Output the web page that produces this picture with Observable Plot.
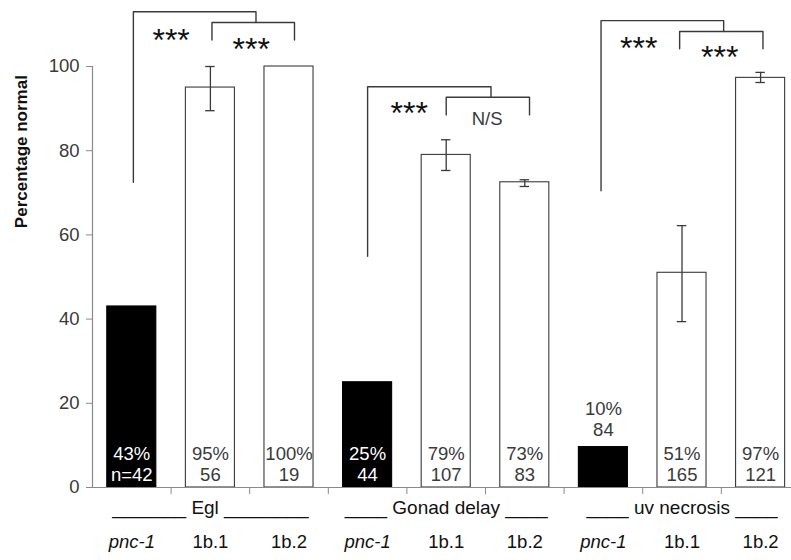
<!DOCTYPE html>
<html>
<head>
<meta charset="utf-8">
<script src="https://cdn.jsdelivr.net/npm/d3@7"></script>
<script src="https://cdn.jsdelivr.net/npm/@observablehq/plot@0.6"></script>
<style>
  html, body { margin: 0; padding: 0; background: #fff; overflow: hidden; }
</style>
</head>
<body>
<div id="chart"></div>
<script>
// ---- data ----
const strains = ["pnc-1", "1b.1", "1b.2", "pnc-1", "1b.1", "1b.2", "pnc-1", "1b.1", "1b.2"];
const assays = ["Egl", "Egl", "Egl", "Gonad delay", "Gonad delay", "Gonad delay", "uv necrosis", "uv necrosis", "uv necrosis"];
const values = [43, 95, 100, 25, 79, 72.5, 9.6, 51, 97.3];
const errLow = [null, 89.5, null, null, 75.3, 71.5, null, 39.4, 96.2];
const errHigh = [null, 100, null, null, 82.6, 73.1, null, 62.2, 98.6];
const pctLabels = ["43%", "95%", "100%", "25%", "79%", "73%", "10%", "51%", "97%"];
const nLabels = ["n=42", "56", "19", "44", "107", "83", "84", "165", "121"];

const groupLabels = ["_______ Egl ________", "____ Gonad delay ____", "____ uv necrosis ____"];
const groupCenters = [1, 4, 7];

// significance brackets (x in bar-index units, y in percent units)
const bracketLeft = [0.02, 1.02, 3.0, 4.0, 5.97, 6.97];
const bracketRight = [1.58, 2.07, 4.57, 5.06, 7.53, 8.03];
const bracketTop = [113, 110.45, 95.2, 92.7, 110.9, 108.3];
const bracketLeftEnd = [72.5, 106.3, 54.9, 88.5, 70.5, 104.2];
const bracketRightEnd = [110.45, 106.3, 92.7, 88.5, 108.3, 104.2];
const sigLabels = ["***", "***", "***", "N/S", "***", "***"];
const sigX = [0.5, 1.52, 3.53, 4.52, 6.45, 7.48];
const sigY = [108.2, 105.9, 90.7, 87.6, 106.2, 104.0];

const yTicks = [0, 20, 40, 60, 80, 100];

// ---- derived tables ----
const bars = values.map((v, i) => ({
  i, v, strain: strains[i], assay: assays[i],
  lo: errLow[i], hi: errHigh[i],
  label: pctLabels[i] + "\n" + nLabels[i],
  control: strains[i] === "pnc-1"
}));
const errs = bars.filter(d => d.lo != null);
const halfW = 0.312, capW = 0.06;

const bracketPts = [];
sigLabels.forEach((s, k) => {
  bracketPts.push({k, x: bracketLeft[k], y: bracketLeftEnd[k]});
  bracketPts.push({k, x: bracketLeft[k], y: bracketTop[k]});
  bracketPts.push({k, x: bracketRight[k], y: bracketTop[k]});
  bracketPts.push({k, x: bracketRight[k], y: bracketRightEnd[k]});
});
const sig = sigLabels.map((s, k) => ({s, x: sigX[k], y: sigY[k]}));
const groups = groupLabels.map((g, k) => ({g, x: groupCenters[k]}));

const dark = "#3a3a3a";
const axisGray = "#8a8a8a";
const font = "'Liberation Sans', Arial, Helvetica, sans-serif";

const chart = Plot.plot({
  width: 791,
  height: 560,
  marginLeft: 92,
  marginRight: -8.4,
  marginTop: 66,
  marginBottom: 73,
  style: {fontFamily: font, fontSize: "18.5px", color: dark, background: "#fff"},
  x: {type: "linear", domain: [-0.5, 8.5]},
  y: {domain: [0, 100]},
  marks: [
    // bars
    Plot.rectY(bars, {
      x1: d => d.i - halfW, x2: d => d.i + halfW, y1: 0, y2: "v",
      fill: d => d.control ? "#000" : "#fff",
      stroke: d => d.control ? "#000" : dark,
      strokeWidth: 1.1
    }),
    // axes
    Plot.ruleY([0], {stroke: axisGray, strokeWidth: 1.2}),
    Plot.ruleX([-0.5], {y1: 0, y2: 100, stroke: axisGray, strokeWidth: 1.2}),
    Plot.axisY(yTicks, {tickSize: 6, tickPadding: 7, stroke: axisGray, fill: dark, fontSize: 18.5, label: null}),
    Plot.axisX([0.5, 1.5, 2.5, 3.5, 4.5, 5.5, 6.5, 7.5], {tickSize: 7, stroke: axisGray, tickFormat: () => "", label: null}),
    // error bars
    Plot.ruleX(errs, {x: "i", y1: "lo", y2: "hi", stroke: dark, strokeWidth: 1.3}),
    Plot.ruleY(errs, {y: "lo", x1: d => d.i - capW, x2: d => d.i + capW, stroke: dark, strokeWidth: 1.3}),
    Plot.ruleY(errs, {y: "hi", x1: d => d.i - capW, x2: d => d.i + capW, stroke: dark, strokeWidth: 1.3}),
    // value labels inside bars
    Plot.text(bars.filter(d => d.v >= 15), {
      x: "i", y: 0, text: "label", frameAnchor: "bottom", dy: -23.5,
      lineAnchor: "middle", lineHeight: 1.13, fontSize: 18.5,
      fill: d => d.control ? "#fff" : dark
    }),
    // value label above a short bar
    Plot.text(bars.filter(d => d.v < 15), {
      x: "i", y: "v", text: "label", dy: -28,
      lineAnchor: "middle", lineHeight: 1.13, fontSize: 18.5, fill: dark
    }),
    // brackets
    Plot.line(bracketPts, {x: "x", y: "y", z: "k", stroke: dark, strokeWidth: 1.4, curve: "linear"}),
    Plot.text(sig.filter(d => d.s === "***"), {x: "x", y: "y", text: "s", fontSize: 32, dy: 8.5, fill: "#111"}),
    Plot.text(sig.filter(d => d.s !== "***"), {x: "x", y: "y", text: "s", fontSize: 18.5, fill: dark}),
    // group labels and strain labels below the axis
    Plot.text(groups, {x: "x", text: "g", frameAnchor: "bottom", dy: 26.5, fontSize: 19, fill: "#111"}),
    Plot.text(bars.filter(d => d.control), {x: "i", text: "strain", frameAnchor: "bottom", dy: 60.5, fontSize: 18.5, fontStyle: "italic", fill: "#111"}),
    Plot.text(bars.filter(d => !d.control), {x: "i", text: "strain", frameAnchor: "bottom", dy: 60.5, fontSize: 18.5, fill: "#111"}),
    // y-axis title
    Plot.text(["Percentage normal"], {
      y: [61.6], frameAnchor: "left", dx: -71, rotate: -90,
      fontSize: 17, fontWeight: "bold", fill: "#111"
    })
  ]
});
document.getElementById("chart").appendChild(chart);
</script>
</body>
</html>
